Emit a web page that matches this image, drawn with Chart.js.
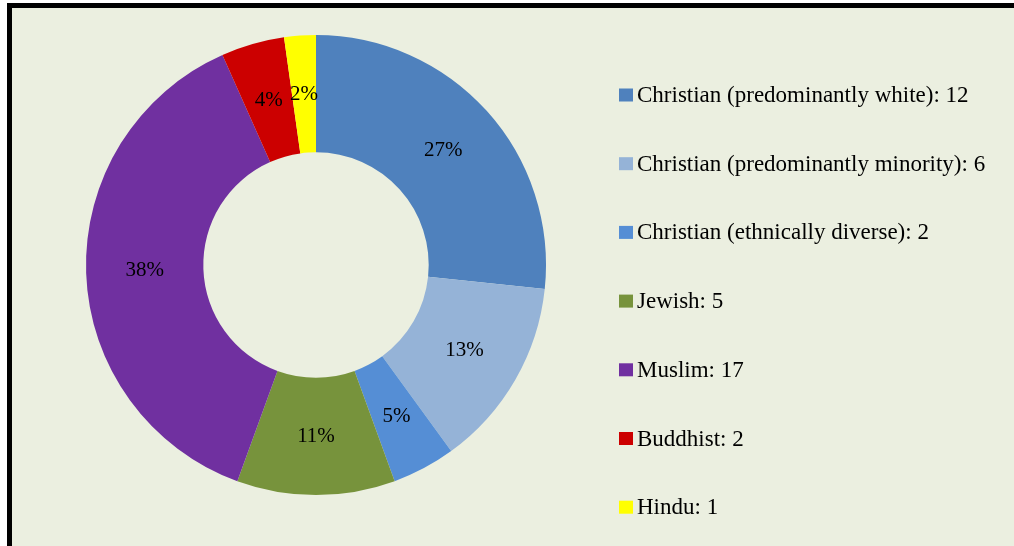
<!DOCTYPE html>
<html>
<head>
<meta charset="utf-8">
<script src="https://cdn.jsdelivr.net/npm/chart.js@4/dist/chart.umd.min.js"></script>
<style>
  html, body { margin: 0; padding: 0; background: #ffffff; width: 1014px; height: 546px; overflow: hidden; }
  #frame { position: absolute; left: 7px; top: 3px; width: 1100px; height: 600px; border-left: 5px solid #000; border-top: 5px solid #000; background: #EBEFE0; }
  #wrap { position: absolute; left: 0; top: 0; width: 1014px; height: 546px; }
</style>
</head>
<body>
<div id="frame"></div>
<div id="wrap"><canvas id="c" width="1014" height="546"></canvas></div>
<script>
const categories = [
  "Christian (predominantly white)",
  "Christian (predominantly minority)",
  "Christian (ethnically diverse)",
  "Jewish",
  "Muslim",
  "Buddhist",
  "Hindu"
];
const counts = [12, 6, 2, 5, 17, 2, 1];
const percentLabels = ["27%", "13%", "5%", "11%", "38%", "4%", "2%"];
const colors = ["#4F81BD", "#95B3D7", "#558ED5", "#77933C", "#7030A0", "#CC0000", "#FFFF00"];

const labelPlugin = {
  id: 'sliceLabels',
  afterDatasetsDraw(chart) {
    const ctx = chart.ctx;
    const meta = chart.getDatasetMeta(0);
    ctx.save();
    ctx.font = '21px "Liberation Serif", serif';
    ctx.fillStyle = '#000';
    ctx.textAlign = 'center';
    ctx.textBaseline = 'middle';
    meta.data.forEach((arc, i) => {
      const p = arc.tooltipPosition();
      ctx.fillText(percentLabels[i], p.x, p.y);
    });
    ctx.restore();
  }
};

const legendPlugin = {
  id: 'customLegend',
  afterDraw(chart) {
    const ctx = chart.ctx;
    ctx.save();
    const x0 = 619, y0 = 95, step = 68.7;
    ctx.font = '23px "Liberation Serif", serif';
    ctx.textBaseline = 'middle';
    ctx.textAlign = 'left';
    categories.forEach((c, i) => {
      const y = y0 + i * step;
      ctx.fillStyle = colors[i];
      ctx.fillRect(x0, y - 6.5, 14, 13);
      ctx.fillStyle = '#000';
      ctx.fillText(c + ': ' + counts[i], x0 + 18, y + 1);
    });
    ctx.restore();
  }
};

new Chart(document.getElementById('c'), {
  type: 'doughnut',
  data: {
    labels: categories,
    datasets: [{
      data: counts,
      backgroundColor: colors,
      borderWidth: 0,
      hoverOffset: 0
    }]
  },
  options: {
    responsive: false,
    animation: false,
    cutout: '49%',
    layout: { padding: { left: 86, right: 468, top: 35, bottom: 51 } },
    plugins: {
      legend: { display: false },
      tooltip: { enabled: false }
    }
  },
  plugins: [labelPlugin, legendPlugin]
});
</script>
</body>
</html>
